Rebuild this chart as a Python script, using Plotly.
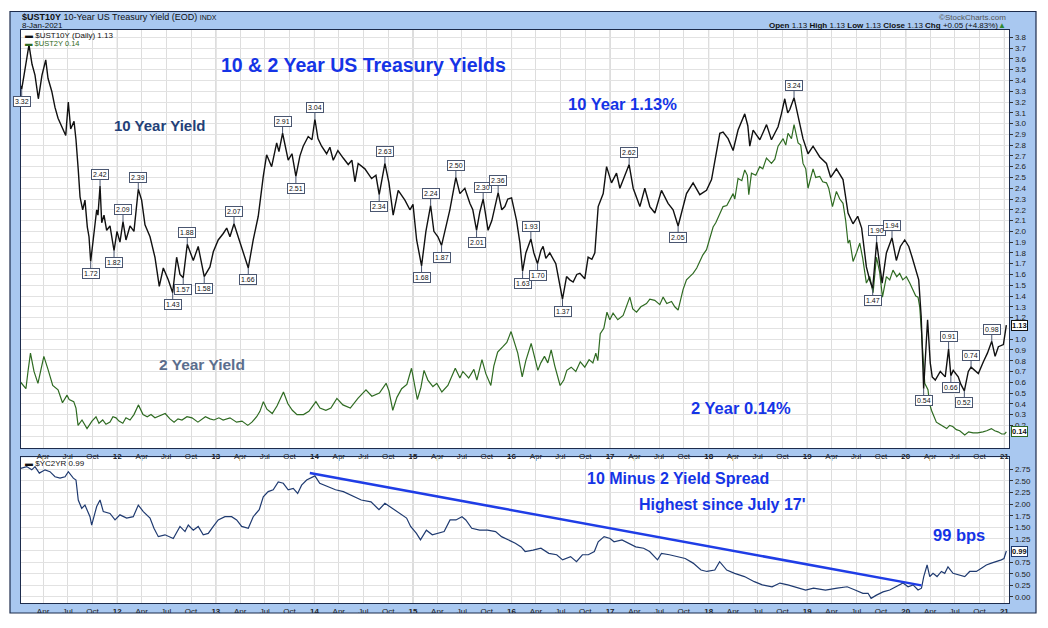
import plotly.graph_objects as go

W, H = 1048, 628

# ---------------- data (decimal year, yield %) ----------------
UST10Y = [
    (2011.013, 3.36), (2011.030, 3.32), (2011.054, 3.45), (2011.074, 3.55), (2011.104, 3.73), (2011.135, 3.55), (2011.165, 3.45), (2011.199, 3.23), (2011.236, 3.45), (2011.274, 3.59),
    (2011.297, 3.42), (2011.335, 3.30), (2011.368, 3.15), (2011.399, 3.05), (2011.436, 2.97), (2011.477, 2.89), (2011.503, 3.20), (2011.527, 2.95), (2011.561, 3.02), (2011.581, 2.85),
    (2011.604, 2.57), (2011.622, 2.32), (2011.649, 2.20), (2011.672, 2.29), (2011.696, 2.04), (2011.713, 1.95), (2011.730, 1.72), (2011.754, 1.92), (2011.791, 2.20), (2011.804, 2.15),
    (2011.825, 2.42), (2011.842, 2.08), (2011.865, 2.15), (2011.892, 2.01), (2011.926, 2.05), (2011.967, 1.82), (2011.997, 2.00), (2012.027, 1.90), (2012.058, 2.09), (2012.088, 1.92),
    (2012.129, 2.05), (2012.169, 2.00), (2012.213, 2.39), (2012.247, 2.29), (2012.281, 2.06), (2012.332, 1.95), (2012.382, 1.76), (2012.426, 1.49), (2012.467, 1.66), (2012.517, 1.55),
    (2012.562, 1.43), (2012.602, 1.76), (2012.636, 1.60), (2012.669, 1.57), (2012.710, 1.88), (2012.771, 1.73), (2012.821, 1.86), (2012.882, 1.58), (2012.940, 1.67), (2012.974, 1.81),
    (2013.024, 1.92), (2013.075, 1.98), (2013.110, 2.03), (2013.143, 1.95), (2013.184, 2.07), (2013.237, 1.92), (2013.278, 1.80), (2013.329, 1.66), (2013.379, 1.92), (2013.430, 2.14),
    (2013.481, 2.51), (2013.515, 2.71), (2013.566, 2.60), (2013.617, 2.82), (2013.640, 2.74), (2013.677, 2.91), (2013.734, 2.66), (2013.772, 2.72), (2013.812, 2.51), (2013.853, 2.70),
    (2013.886, 2.79), (2013.937, 2.88), (2013.975, 2.85), (2014.005, 3.04), (2014.036, 2.86), (2014.073, 2.79), (2014.124, 2.72), (2014.157, 2.78), (2014.191, 2.66), (2014.238, 2.75),
    (2014.292, 2.68), (2014.343, 2.62), (2014.380, 2.66), (2014.411, 2.46), (2014.444, 2.63), (2014.512, 2.58), (2014.580, 2.49), (2014.624, 2.52), (2014.657, 2.34), (2014.685, 2.47),
    (2014.715, 2.63), (2014.756, 2.45), (2014.799, 2.15), (2014.850, 2.38), (2014.918, 2.29), (2014.969, 2.20), (2015.000, 2.25), (2015.037, 1.92), (2015.087, 1.68), (2015.131, 2.00),
    (2015.179, 2.24), (2015.212, 2.00), (2015.253, 1.95), (2015.290, 1.87), (2015.334, 2.05), (2015.374, 2.20), (2015.435, 2.50), (2015.476, 2.35), (2015.526, 2.40), (2015.577, 2.26),
    (2015.607, 2.20), (2015.645, 2.01), (2015.678, 2.18), (2015.712, 2.30), (2015.762, 2.01), (2015.800, 2.10), (2015.864, 2.36), (2015.901, 2.20), (2015.932, 2.23), (2015.962, 2.30),
    (2016.000, 2.31), (2016.051, 2.10), (2016.085, 1.89), (2016.112, 1.63), (2016.145, 1.80), (2016.196, 1.93), (2016.226, 1.80), (2016.264, 1.70), (2016.297, 1.82), (2016.320, 1.86),
    (2016.348, 1.75), (2016.388, 1.80), (2016.449, 1.70), (2016.480, 1.55), (2016.517, 1.37), (2016.558, 1.58), (2016.591, 1.55), (2016.625, 1.53), (2016.662, 1.60), (2016.693, 1.61),
    (2016.743, 1.56), (2016.777, 1.76), (2016.815, 1.74), (2016.845, 1.80), (2016.879, 2.23), (2016.930, 2.35), (2016.964, 2.60), (2017.014, 2.45), (2017.065, 2.54), (2017.099, 2.40),
    (2017.132, 2.48), (2017.193, 2.62), (2017.234, 2.40), (2017.302, 2.23), (2017.352, 2.40), (2017.403, 2.23), (2017.454, 2.17), (2017.521, 2.38), (2017.588, 2.26), (2017.639, 2.20),
    (2017.690, 2.05), (2017.740, 2.23), (2017.775, 2.35), (2017.842, 2.45), (2017.910, 2.34), (2017.978, 2.38), (2018.029, 2.48), (2018.062, 2.65), (2018.113, 2.91), (2018.146, 2.92),
    (2018.197, 2.86), (2018.248, 2.75), (2018.298, 2.94), (2018.366, 3.09), (2018.397, 2.98), (2018.417, 2.79), (2018.451, 2.94), (2018.519, 2.85), (2018.587, 2.99), (2018.637, 2.85),
    (2018.704, 2.97), (2018.738, 3.09), (2018.772, 3.23), (2018.802, 3.10), (2018.823, 3.13), (2018.866, 3.24), (2018.907, 3.06), (2018.957, 2.86), (2019.008, 2.72), (2019.059, 2.79),
    (2019.127, 2.69), (2019.195, 2.63), (2019.238, 2.50), (2019.296, 2.58), (2019.363, 2.48), (2019.414, 2.17), (2019.464, 2.07), (2019.512, 2.14), (2019.552, 2.03), (2019.600, 1.67),
    (2019.633, 1.55), (2019.664, 1.47), (2019.704, 1.90), (2019.735, 1.70), (2019.760, 1.52), (2019.803, 1.80), (2019.860, 1.94), (2019.904, 1.73), (2019.945, 1.86), (2019.989, 1.92),
    (2020.030, 1.86), (2020.064, 1.76), (2020.098, 1.64), (2020.131, 1.55), (2020.156, 1.21), (2020.168, 0.95), (2020.181, 0.54), (2020.197, 0.80), (2020.221, 1.18), (2020.248, 0.78),
    (2020.268, 0.65), (2020.299, 0.62), (2020.350, 0.70), (2020.400, 0.65), (2020.434, 0.91), (2020.457, 0.66), (2020.481, 0.71), (2020.532, 0.65), (2020.559, 0.58), (2020.594, 0.52),
    (2020.634, 0.70), (2020.662, 0.74), (2020.702, 0.71), (2020.736, 0.68), (2020.787, 0.79), (2020.828, 0.87), (2020.872, 0.98), (2020.906, 0.84), (2020.939, 0.93), (2020.990, 0.95),
    (2021.020, 1.13),
]

UST2Y = [
    (2011.020, 0.60), (2011.073, 0.54), (2011.094, 0.70), (2011.119, 0.87), (2011.155, 0.70), (2011.195, 0.59), (2011.226, 0.72), (2011.255, 0.84), (2011.297, 0.72), (2011.345, 0.57),
    (2011.399, 0.53), (2011.444, 0.41), (2011.490, 0.48), (2011.512, 0.44), (2011.558, 0.42), (2011.581, 0.36), (2011.602, 0.20), (2011.642, 0.25), (2011.693, 0.17), (2011.743, 0.24),
    (2011.784, 0.28), (2011.814, 0.22), (2011.852, 0.25), (2011.885, 0.21), (2011.926, 0.23), (2011.956, 0.28), (2011.987, 0.27), (2012.017, 0.24), (2012.056, 0.22), (2012.088, 0.27),
    (2012.129, 0.25), (2012.169, 0.30), (2012.214, 0.39), (2012.240, 0.33), (2012.261, 0.30), (2012.304, 0.28), (2012.342, 0.30), (2012.382, 0.27), (2012.433, 0.29), (2012.486, 0.31),
    (2012.534, 0.26), (2012.576, 0.23), (2012.616, 0.26), (2012.656, 0.25), (2012.707, 0.28), (2012.758, 0.27), (2012.818, 0.23), (2012.894, 0.28), (2012.940, 0.26), (2012.981, 0.25),
    (2013.031, 0.27), (2013.074, 0.25), (2013.143, 0.27), (2013.210, 0.23), (2013.265, 0.24), (2013.324, 0.20), (2013.366, 0.23), (2013.414, 0.28), (2013.447, 0.33), (2013.482, 0.42),
    (2013.518, 0.35), (2013.572, 0.31), (2013.620, 0.38), (2013.686, 0.51), (2013.731, 0.40), (2013.776, 0.34), (2013.823, 0.30), (2013.889, 0.30), (2013.944, 0.33), (2014.015, 0.42),
    (2014.056, 0.36), (2014.116, 0.34), (2014.167, 0.36), (2014.228, 0.45), (2014.289, 0.39), (2014.364, 0.36), (2014.441, 0.45), (2014.523, 0.53), (2014.583, 0.47), (2014.659, 0.50),
    (2014.727, 0.59), (2014.756, 0.52), (2014.795, 0.34), (2014.837, 0.46), (2014.885, 0.54), (2014.938, 0.58), (2014.985, 0.73), (2015.009, 0.62), (2015.044, 0.44), (2015.080, 0.55),
    (2015.112, 0.71), (2015.151, 0.62), (2015.202, 0.56), (2015.242, 0.59), (2015.293, 0.51), (2015.354, 0.57), (2015.394, 0.66), (2015.429, 0.73), (2015.476, 0.64), (2015.506, 0.70),
    (2015.565, 0.64), (2015.618, 0.72), (2015.648, 0.62), (2015.700, 0.81), (2015.739, 0.68), (2015.790, 0.57), (2015.820, 0.75), (2015.859, 0.88), (2015.912, 0.93), (2015.952, 0.97),
    (2015.995, 1.07), (2016.023, 0.98), (2016.063, 0.87), (2016.108, 0.65), (2016.145, 0.80), (2016.199, 0.96), (2016.236, 0.82), (2016.267, 0.71), (2016.297, 0.78), (2016.334, 0.84),
    (2016.368, 0.78), (2016.402, 0.90), (2016.439, 0.75), (2016.493, 0.57), (2016.530, 0.62), (2016.561, 0.71), (2016.605, 0.74), (2016.652, 0.70), (2016.697, 0.79), (2016.743, 0.74),
    (2016.787, 0.81), (2016.825, 0.78), (2016.855, 0.87), (2016.875, 0.80), (2016.900, 1.05), (2016.936, 1.10), (2016.968, 1.25), (2016.997, 1.18), (2017.030, 1.24), (2017.078, 1.18),
    (2017.132, 1.22), (2017.200, 1.39), (2017.230, 1.28), (2017.268, 1.25), (2017.312, 1.30), (2017.369, 1.33), (2017.403, 1.37), (2017.453, 1.36), (2017.504, 1.32), (2017.538, 1.39),
    (2017.575, 1.33), (2017.623, 1.35), (2017.656, 1.30), (2017.690, 1.27), (2017.740, 1.46), (2017.775, 1.55), (2017.808, 1.58), (2017.842, 1.61), (2017.879, 1.66), (2017.910, 1.73),
    (2017.940, 1.78), (2017.978, 1.83), (2018.011, 1.93), (2018.045, 2.04), (2018.072, 2.08), (2018.113, 2.17), (2018.146, 2.23), (2018.184, 2.24), (2018.214, 2.29), (2018.248, 2.35),
    (2018.265, 2.30), (2018.298, 2.49), (2018.336, 2.47), (2018.366, 2.57), (2018.392, 2.52), (2018.407, 2.34), (2018.434, 2.54), (2018.478, 2.52), (2018.518, 2.60), (2018.549, 2.58),
    (2018.586, 2.68), (2018.637, 2.63), (2018.671, 2.67), (2018.704, 2.79), (2018.755, 2.86), (2018.782, 2.80), (2018.805, 2.91), (2018.840, 2.86), (2018.866, 2.99), (2018.907, 2.82),
    (2018.934, 2.80), (2018.957, 2.63), (2018.985, 2.58), (2019.008, 2.40), (2019.059, 2.58), (2019.086, 2.50), (2019.127, 2.51), (2019.157, 2.46), (2019.195, 2.45), (2019.218, 2.40),
    (2019.256, 2.23), (2019.296, 2.37), (2019.330, 2.30), (2019.363, 2.26), (2019.390, 2.10), (2019.414, 1.89), (2019.431, 1.92), (2019.465, 1.72), (2019.499, 1.80), (2019.533, 1.89),
    (2019.563, 1.75), (2019.600, 1.52), (2019.634, 1.58), (2019.668, 1.43), (2019.702, 1.76), (2019.735, 1.62), (2019.763, 1.39), (2019.803, 1.58), (2019.837, 1.55), (2019.870, 1.64),
    (2019.908, 1.58), (2019.938, 1.61), (2019.969, 1.55), (2020.006, 1.58), (2020.040, 1.52), (2020.073, 1.46), (2020.101, 1.40), (2020.124, 1.39), (2020.141, 1.30), (2020.158, 1.08),
    (2020.177, 0.75), (2020.192, 0.59), (2020.225, 0.53), (2020.242, 0.40), (2020.260, 0.34), (2020.283, 0.28), (2020.310, 0.23), (2020.344, 0.21), (2020.377, 0.19), (2020.415, 0.17),
    (2020.445, 0.20), (2020.476, 0.19), (2020.513, 0.16), (2020.547, 0.15), (2020.598, 0.11), (2020.638, 0.14), (2020.682, 0.13), (2020.729, 0.13), (2020.783, 0.14), (2020.821, 0.15),
    (2020.868, 0.17), (2020.902, 0.15), (2020.935, 0.14), (2020.973, 0.12), (2021.003, 0.12), (2021.020, 0.14),
]

SPREAD = [
    (2011.020, 2.77), (2011.081, 2.81), (2011.132, 2.74), (2011.165, 2.81), (2011.209, 2.67), (2011.267, 2.74), (2011.317, 2.70), (2011.368, 2.59), (2011.419, 2.56), (2011.470, 2.59),
    (2011.503, 2.70), (2011.554, 2.56), (2011.581, 2.52), (2011.604, 2.09), (2011.639, 1.91), (2011.672, 1.98), (2011.723, 1.73), (2011.740, 1.55), (2011.791, 1.95), (2011.825, 2.09),
    (2011.858, 1.84), (2011.926, 1.80), (2011.977, 1.66), (2012.027, 1.77), (2012.095, 1.70), (2012.162, 1.73), (2012.213, 1.98), (2012.264, 1.84), (2012.332, 1.70), (2012.372, 1.48),
    (2012.416, 1.30), (2012.484, 1.34), (2012.568, 1.26), (2012.636, 1.52), (2012.687, 1.41), (2012.720, 1.55), (2012.771, 1.44), (2012.821, 1.52), (2012.872, 1.34), (2012.923, 1.37),
    (2012.974, 1.52), (2013.024, 1.66), (2013.092, 1.73), (2013.160, 1.73), (2013.211, 1.66), (2013.262, 1.52), (2013.329, 1.48), (2013.379, 1.73), (2013.440, 1.88), (2013.481, 2.16),
    (2013.531, 2.27), (2013.582, 2.31), (2013.633, 2.48), (2013.684, 2.45), (2013.734, 2.31), (2013.785, 2.34), (2013.830, 2.23), (2013.870, 2.41), (2013.921, 2.52), (2013.988, 2.59),
    (2014.005, 2.61), (2014.054, 2.45), (2014.134, 2.38), (2014.214, 2.31), (2014.294, 2.27), (2014.395, 2.16), (2014.475, 2.09), (2014.574, 2.05), (2014.655, 1.88), (2014.715, 2.02),
    (2014.795, 1.91), (2014.875, 1.80), (2014.935, 1.70), (2014.976, 1.52), (2015.035, 1.37), (2015.076, 1.23), (2015.136, 1.44), (2015.196, 1.34), (2015.256, 1.37), (2015.316, 1.41),
    (2015.376, 1.66), (2015.436, 1.66), (2015.497, 1.73), (2015.536, 1.66), (2015.596, 1.48), (2015.676, 1.44), (2015.757, 1.44), (2015.838, 1.41), (2015.898, 1.30), (2015.978, 1.23),
    (2016.038, 1.16), (2016.097, 1.08), (2016.138, 0.98), (2016.218, 1.01), (2016.298, 1.05), (2016.378, 0.94), (2016.458, 0.91), (2016.518, 0.80), (2016.599, 0.87), (2016.659, 0.76),
    (2016.719, 0.91), (2016.779, 0.91), (2016.840, 0.98), (2016.879, 1.19), (2016.939, 1.30), (2017.000, 1.26), (2017.040, 1.19), (2017.120, 1.23), (2017.180, 1.16), (2017.260, 1.08),
    (2017.340, 1.05), (2017.401, 0.98), (2017.481, 0.80), (2017.521, 0.94), (2017.601, 0.91), (2017.681, 0.87), (2017.762, 0.83), (2017.842, 0.73), (2017.922, 0.58), (2017.982, 0.55),
    (2018.062, 0.58), (2018.111, 0.76), (2018.183, 0.58), (2018.263, 0.51), (2018.363, 0.44), (2018.463, 0.33), (2018.544, 0.26), (2018.643, 0.22), (2018.723, 0.30), (2018.803, 0.26),
    (2018.904, 0.19), (2018.984, 0.15), (2019.064, 0.19), (2019.185, 0.15), (2019.304, 0.19), (2019.405, 0.22), (2019.485, 0.15), (2019.565, 0.08), (2019.617, 0.08), (2019.648, -0.03),
    (2019.702, 0.04), (2019.769, 0.11), (2019.837, 0.15), (2019.905, 0.22), (2019.972, 0.30), (2020.023, 0.22), (2020.074, 0.26), (2020.124, 0.15), (2020.159, 0.19), (2020.182, 0.44),
    (2020.216, 0.69), (2020.243, 0.44), (2020.276, 0.51), (2020.317, 0.44), (2020.361, 0.55), (2020.395, 0.51), (2020.428, 0.65), (2020.479, 0.51), (2020.547, 0.47), (2020.598, 0.44),
    (2020.648, 0.55), (2020.716, 0.55), (2020.767, 0.62), (2020.817, 0.69), (2020.868, 0.73), (2020.919, 0.76), (2020.969, 0.80), (2020.996, 0.83), (2021.020, 0.99),
]

PEAK_DATES = [2011.825, 2012.058, 2012.213, 2012.710, 2013.184, 2013.677, 2014.005, 2014.715, 2015.179, 2015.435,
              2015.712, 2015.864, 2016.196, 2017.193, 2018.866, 2019.704, 2019.860, 2020.434, 2020.662, 2020.872]
PEAK_VALUES = [2.42, 2.09, 2.39, 1.88, 2.07, 2.91, 3.04, 2.63, 2.24, 2.50,
               2.30, 2.36, 1.93, 2.62, 3.24, 1.90, 1.94, 0.91, 0.74, 0.98]
TROUGH_DATES = [2011.030, 2011.730, 2011.967, 2012.562, 2012.669, 2012.882, 2013.329, 2013.812, 2014.657, 2015.087,
                2015.290, 2015.645, 2016.112, 2016.264, 2016.517, 2017.690, 2019.664, 2020.181, 2020.457, 2020.594]
TROUGH_VALUES = [3.32, 1.72, 1.82, 1.43, 1.57, 1.58, 1.66, 2.51, 2.34, 1.68,
                 1.87, 2.01, 1.63, 1.70, 1.37, 2.05, 1.47, 0.54, 0.66, 0.52]

TREND_DATES = [2013.953, 2020.158]
TREND_VALUES = [2.67, 0.25]

LAST_10Y, LAST_2Y, LAST_SPREAD = 1.13, 0.14, 0.99

TICK_YEARS = list(range(2011, 2022))
QUARTER_LABELS = ["Apr", "Jul", "Oct"]
QUARTER_FRACTIONS = [0.247, 0.496, 0.748]
Y1_GRID = [round(0.1 * i, 1) for i in range(1, 39)]
Y1_HIDDEN = [0.1, 1.1]          # labels covered by the last-value boxes
Y2_GRID = [0.25 * i for i in range(12)]
Y2_HIDDEN = [1.0]

# ---------------- helpers ----------------
def px(x):
    return x / W

def py(y):
    return 1 - y / H

FONT = "Liberation Sans"
BLUE = "#1534E6"
FRAME_BLUE = "#A9C8F0"
BORDER = "#1d2c4c"
GRID = "#e2e2e2"

t10 = [d for d, _ in UST10Y]; v10 = [v for _, v in UST10Y]
t2 = [d for d, _ in UST2Y]; v2 = [v for _, v in UST2Y]
ts = [d for d, _ in SPREAD]; vs = [v for _, v in SPREAD]

tickvals, ticktext = [], []
for yr in TICK_YEARS:
    if yr > 2011:
        tickvals.append(yr)
        ticktext.append("<b>%02d</b>" % (yr % 100))
    if yr < 2021:
        for lab, fr in zip(QUARTER_LABELS, QUARTER_FRACTIONS):
            tickvals.append(yr + fr)
            ticktext.append(lab)

fig = go.Figure()
fig.add_trace(go.Scatter(x=t2, y=v2, mode="lines", xaxis="x", yaxis="y",
                         line=dict(color="#2f6b22", width=1.2), hoverinfo="skip"))
fig.add_trace(go.Scatter(x=t10, y=v10, mode="lines", xaxis="x", yaxis="y",
                         line=dict(color="#111111", width=1.4), hoverinfo="skip"))
fig.add_trace(go.Scatter(x=ts, y=vs, mode="lines", xaxis="x2", yaxis="y2",
                         line=dict(color="#1f3a70", width=1.2), hoverinfo="skip"))
fig.add_trace(go.Scatter(x=TREND_DATES, y=TREND_VALUES, mode="lines", xaxis="x2", yaxis="y2",
                         line=dict(color="#1f3de6", width=2.5), hoverinfo="skip"))

XR = [2011.02, 2021.05]
xcommon = dict(range=XR, tickvals=tickvals, ticktext=ticktext, showgrid=True, gridcolor="#dddddd",
               gridwidth=1, showline=True, linecolor=BORDER, linewidth=1, mirror=True, ticks="",
               zeroline=False, tickfont=dict(size=8, color="#222", family=FONT),
               domain=[px(20.7), px(1009.3)], fixedrange=True)
ycommon = dict(side="right", showgrid=True, gridcolor=GRID, gridwidth=1, showline=True,
               linecolor=BORDER, linewidth=1, mirror=True, ticks="outside", ticklen=3,
               tickcolor="#333", zeroline=False, tickfont=dict(size=8, color="#222", family=FONT),
               fixedrange=True)

y1_labels = [v for v in Y1_GRID if v not in Y1_HIDDEN]
y2_labels = [v for v in Y2_GRID if v not in Y2_HIDDEN]

fig.update_layout(
    width=W, height=H, autosize=False,
    margin=dict(l=0, r=0, t=0, b=0),
    paper_bgcolor=FRAME_BLUE, plot_bgcolor="white",
    showlegend=False,
    font=dict(family=FONT),
    xaxis=dict(xcommon, anchor="y"),
    xaxis2=dict(xcommon, anchor="y2", matches="x"),
    yaxis=dict(ycommon, anchor="x", domain=[py(448), py(30)], range=[-0.01, 3.868],
               tickvals=y1_labels, tickformat=".1f",
               minor=dict(tickvals=Y1_GRID, showgrid=True, gridcolor=GRID, ticks="")),
    yaxis2=dict(ycommon, anchor="x2", domain=[py(603.3), py(457.3)], range=[-0.136, 3.01],
                tickvals=y2_labels, tickformat=".2f",
                minor=dict(tickvals=Y2_GRID, showgrid=True, gridcolor=GRID, ticks="")),
)

shapes = []
# darker year gridlines
for yr in TICK_YEARS[1:]:
    for xr, yr_ref in (("x", "y domain"), ("x2", "y2 domain")):
        shapes.append(dict(type="line", xref=xr, yref=yr_ref, x0=yr, x1=yr, y0=0, y1=1,
                           line=dict(color="#b9b9b9", width=1), layer="below"))
# white outside the chart frame
for (x0, y0, x1, y1) in [(0, 0, W, 11.5), (0, 0, 10, H), (1036, 0, W, H), (0, 613, W, H)]:
    shapes.append(dict(type="rect", xref="paper", yref="paper", x0=px(x0), x1=px(x1),
                       y0=py(y1), y1=py(y0), fillcolor="white", line=dict(width=0), layer="above"))
# dark frame border
shapes.append(dict(type="rect", xref="paper", yref="paper", x0=px(10), x1=px(1036),
                   y0=py(613), y1=py(11.5), line=dict(color=BORDER, width=1.2),
                   fillcolor="rgba(0,0,0,0)", layer="above"))
fig.update_layout(shapes=shapes)

ann = []
# peak / trough labels
for d, v in zip(PEAK_DATES, PEAK_VALUES):
    ann.append(dict(x=d, y=v, xref="x", yref="y", text="%.2f" % v, showarrow=True,
                    arrowhead=0, arrowwidth=1, arrowcolor="#4a5670", ax=0, ay=-12,
                    font=dict(size=7, color="#111", family=FONT), bgcolor="white",
                    bordercolor="#4a5670", borderwidth=1, borderpad=1))
for d, v in zip(TROUGH_DATES, TROUGH_VALUES):
    ann.append(dict(x=d, y=v, xref="x", yref="y", text="%.2f" % v, showarrow=True,
                    arrowhead=0, arrowwidth=1, arrowcolor="#4a5670", ax=0, ay=12,
                    font=dict(size=7, color="#111", family=FONT), bgcolor="white",
                    bordercolor="#4a5670", borderwidth=1, borderpad=1))

# current value boxes on right axis
def value_box(v, yref, border):
    return dict(x=px(1010.5), y=v, xref="paper", yref=yref, xanchor="left", yanchor="middle",
                text="<b>%.2f</b>" % v, showarrow=False, font=dict(size=7.5, color="#111"),
                bgcolor="white", bordercolor=border, borderwidth=1, borderpad=0)

ann.append(value_box(LAST_10Y, "y", "#111"))
ann.append(value_box(LAST_2Y, "y", "#2f6b22"))
ann.append(value_box(LAST_SPREAD, "y2", "#1f3a70"))

def txt(x, y, text, size, color, xanchor="center", bold=True):
    return dict(x=px(x), y=py(y), xref="paper", yref="paper", xanchor=xanchor, yanchor="middle",
                text=("<b>%s</b>" % text) if bold else text, showarrow=False,
                font=dict(size=size, color=color, family=FONT))

# header
ann.append(txt(20, 17.5, "<b>$UST10Y</b> 10-Year US Treasury Yield (EOD) <span style='font-size:7px'>INDX</span>",
               9, "#111", xanchor="left", bold=False))
ann.append(txt(20, 26, "8-Jan-2021", 8, "#111", xanchor="left", bold=False))
ann.append(txt(1008, 17, "©StockCharts.com", 8, "#555", xanchor="right", bold=False))
ann.append(txt(1008, 26, "<b>Open</b> 1.13 <b>High</b> 1.13 <b>Low</b> 1.13 <b>Close</b> 1.13 <b>Chg</b> +0.05 (+4.83%)"
               "<span style='color:#2f8a2f'>▲</span>", 8, "#111", xanchor="right", bold=False))
# in-panel legends
ann.append(txt(23, 35, "▬ $UST10Y (Daily) %.2f" % LAST_10Y, 8, "#111", xanchor="left", bold=False))
ann.append(txt(23, 43, "▬ $UST2Y %.2f" % LAST_2Y, 7.5, "#2f6b22", xanchor="left", bold=False))
ann.append(txt(23, 463, "▬ $YC2YR %.2f" % LAST_SPREAD, 8, "#111", xanchor="left", bold=False))
# commentary
ann.append(txt(363, 65, "10 &amp; 2 Year US Treasury Yields", 19.5, BLUE))
ann.append(txt(159, 125.5, "10 Year Yield", 15, "#233f78"))
ann.append(txt(622, 104, "10 Year 1.13%", 16.5, BLUE))
ann.append(txt(202, 364, "2 Year Yield", 15.5, "#5b6e8d"))
ann.append(txt(741, 408, "2 Year 0.14%", 16.5, BLUE))
ann.append(txt(678, 478, "10 Minus 2 Yield Spread", 16, BLUE))
ann.append(txt(722, 504, "Highest since July 17'", 16, BLUE))
ann.append(txt(958.5, 534.5, "99 bps", 16.5, BLUE))

fig.update_layout(annotations=ann)

fig.write_html("out.html", config={"displayModeBar": False},
               post_script="document.body.style.margin='0';document.body.style.overflow='hidden';")
